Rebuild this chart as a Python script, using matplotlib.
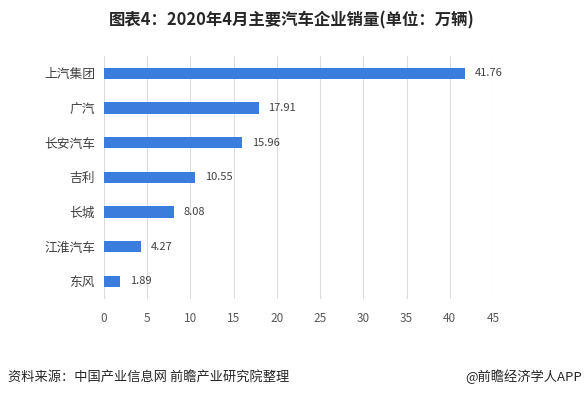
import matplotlib
matplotlib.use("Agg")
import matplotlib.pyplot as plt

plt.rcParams['font.family'] = ['Noto Sans CJK SC', 'DejaVu Sans']

categories = ["上汽集团", "广汽", "长安汽车", "吉利", "长城", "江淮汽车", "东风"]
values = [41.76, 17.91, 15.96, 10.55, 8.08, 4.27, 1.89]
xticks = [0, 5, 10, 15, 20, 25, 30, 35, 40, 45]

fig = plt.figure(figsize=(5.84, 3.96), dpi=100)
ax = fig.add_axes([104/584, 1-298.6/396, (493-104)/584, (298.6-56)/396])

ypos = list(range(len(categories)))
ax.barh(ypos, values, height=0.33, color='#3b7ddd', zorder=3)
ax.set_ylim(len(categories)-0.5, -0.5)
ax.set_xlim(0, 45)
ax.set_xticks(xticks)
ax.set_xticklabels([str(t) for t in xticks])
ax.set_yticks(ypos)
ax.set_yticklabels(categories)
ax.tick_params(axis='x', length=0, labelsize=8.5, colors='#595959', pad=10)
ax.tick_params(axis='y', length=0, labelsize=9.2, colors='#404040', pad=6.5)
ax.grid(axis='x', color='#dcdcdc', linewidth=0.8, zorder=0)
for s in ax.spines.values():
    s.set_visible(False)

for y, v in zip(ypos, values):
    ax.annotate(f"{v:.2f}", (v, y), xytext=(7, 0), textcoords='offset points',
                va='center', ha='left', fontsize=8, color='#404040')

fig.text(0.5, 1-20/396, "图表4：2020年4月主要汽车企业销量(单位：万辆)", ha='center', va='center',
         fontsize=11.8, fontweight='bold', color='#262626')
fig.text(8/584, 1-377/396, "资料来源：中国产业信息网 前瞻产业研究院整理", ha='left', va='center',
         fontsize=9.5, color='#262626')
fig.text(582/584, 1-377/396, "@前瞻经济学人APP", ha='right', va='center',
         fontsize=9.5, color='#262626')

fig.savefig("out.png", dpi=100)
